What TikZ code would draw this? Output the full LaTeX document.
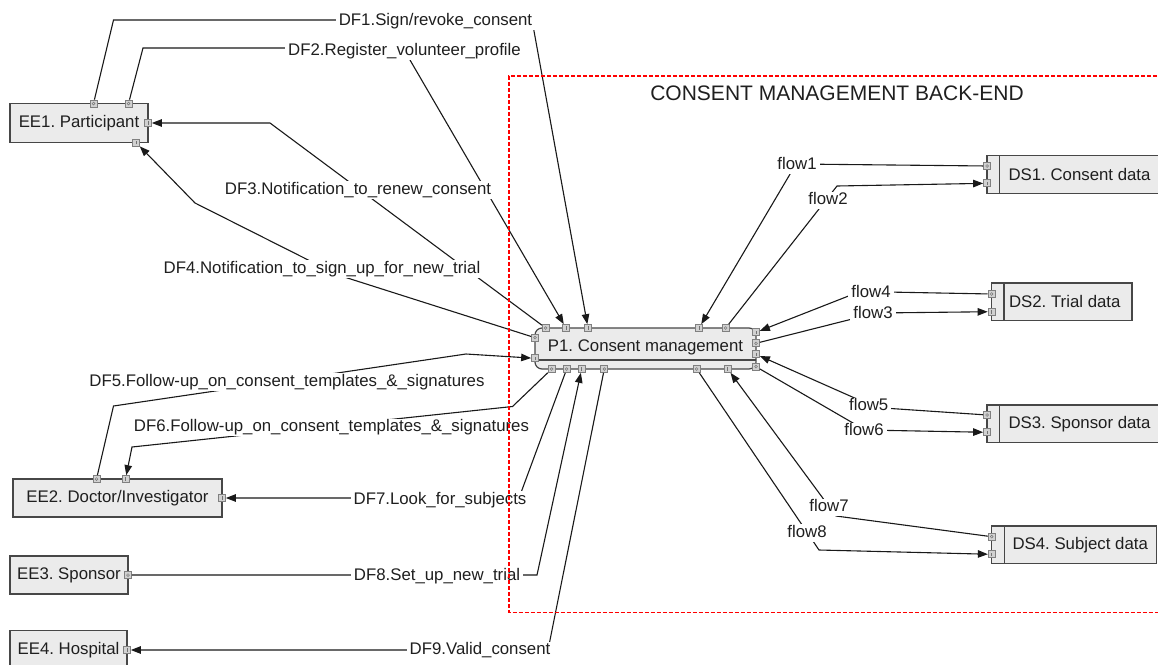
\documentclass[tikz,border=0pt]{standalone}
\usepackage{fontspec}
\setmainfont{Liberation Sans}
\usetikzlibrary{arrows.meta}
\frenchspacing
\begin{document}
\begin{tikzpicture}[x=1pt, y=-1pt,
  every node/.style={font=\fontsize{16.8}{20}\selectfont, text=black!88},
  entity/.style={rectangle, draw=black!72, line width=1.2pt, fill=black!8,
    inner sep=0pt, minimum height=39pt},
  process/.style={entity, rounded corners=7pt, minimum width=221pt, minimum height=41pt,
    path picture={\draw[black!72, line width=1.2pt]
      ([yshift=9pt]path picture bounding box.south west) --
      ([yshift=9pt]path picture bounding box.south east);}},
  store/.style={entity, minimum height=37.5pt,
    path picture={\draw[black!72, line width=1.2pt]
      ([xshift=12.5pt]path picture bounding box.south west) --
      ([xshift=12.5pt]path picture bounding box.north west);}},
  port/.style={rectangle, draw=black!50, fill=black!18, line width=0.7pt,
    minimum size=7pt, inner sep=0pt},
  portout/.style={port, path picture={\draw[black!55, line width=0.5pt]
      (path picture bounding box.center) circle (1.4pt);}},
  portin/.style={port, path picture={\draw[black!55, line width=0.6pt]
      ([yshift=-1.8pt]path picture bounding box.center) --
      ([yshift=1.8pt]path picture bounding box.center);}},
  flow/.style={draw=black!90, line width=1.1pt},
  into/.style={flow, -{Triangle[length=10pt,width=7.5pt]}},
  lbl/.style={fill=white, inner xsep=3pt, inner ysep=1pt, text height=12pt, text depth=3.5pt},
  boundary/.style={draw=red, line width=1.8pt, dash pattern=on 4pt off 2pt},
]
\useasboundingbox (0,0) rectangle (1158,664);

% external entities
\node[entity, minimum width=138pt] (ee1) at (79,123) {EE1. Participant};
\node[entity, minimum width=209pt, minimum height=38pt] (ee2) at (117.5,498) {EE2. Doctor/Investigator};
\node[entity, minimum width=118pt, minimum height=38pt] (ee3) at (69,575) {EE3. Sponsor};
\node[entity, minimum width=117pt] (ee4) at (68.5,650) {EE4. Hospital};

% process
\node[process] (p1) at (645.5,348.5) {\raisebox{5.5pt}{P1. Consent management}};

% data stores
\node[store, minimum width=185pt] (ds1) at (1079.5,174.5) {DS1. Consent data};
\node[store, minimum width=140.5pt] (ds2) at (1061.75,301.75) {\hspace*{6pt}DS2. Trial data};
\node[store, minimum width=185pt] (ds3) at (1079.5,423.7) {DS3. Sponsor data};
\node[store, minimum width=165pt] (ds4) at (1074.2,544.7) {\hspace*{12pt}DS4. Subject data};

% ports of the external entities
\node[portout] (ee1t1) at (93.5,103.5) {};
\node[portout] (ee1t2) at (128.5,103.5) {};
\node[portin]  (ee1r)  at (148,123) {};
\node[portin]  (ee1b)  at (136,142.5) {};
\node[portout] (ee2t1) at (96.5,479) {};
\node[portin]  (ee2t2) at (125.5,479) {};
\node[portin]  (ee2r)  at (222,498) {};
\node[portout] (ee3r)  at (128,575) {};
\node[portin]  (ee4r)  at (127,650) {};

% ports of the process
\node[portout] (p1t1) at (545.7,328) {};
\node[portin]  (p1t2) at (566,328) {};
\node[portin]  (p1t3) at (588,328) {};
\node[portin]  (p1t4) at (699,328) {};
\node[portout] (p1t5) at (725.7,328) {};
\node[portout] (p1l1) at (535,337.7) {};
\node[portin]  (p1l2) at (535,358.3) {};
\node[portin]  (p1r1) at (756,332.3) {};
\node[portout] (p1r2) at (756,343.3) {};
\node[portin]  (p1r3) at (756,354.3) {};
\node[portout] (p1r4) at (756,366.7) {};
\node[portout] (p1b1) at (551.7,369) {};
\node[portout] (p1b2) at (566.7,369) {};
\node[portin]  (p1b3) at (581.7,369) {};
\node[portout] (p1b4) at (604.3,369) {};
\node[portout] (p1b5) at (696.7,369) {};
\node[portin]  (p1b6) at (727.7,369) {};

% ports of the data stores
\node[portout] (ds1o) at (987,166) {};
\node[portin]  (ds1i) at (987,183.3) {};
\node[portout] (ds2o) at (991.5,294) {};
\node[portin]  (ds2i) at (991.5,311.7) {};
\node[portout] (ds3o) at (987,415) {};
\node[portin]  (ds3i) at (987,432.3) {};
\node[portout] (ds4o) at (991.7,536.7) {};
\node[portin]  (ds4i) at (991.7,554.3) {};

% data flows
\draw[into] (ee1t1) -- (113.5,20) -- (532,20) -- (p1t3);
\draw[into] (ee1t2) -- (143,48) -- (403,48) -- (p1t2);
\draw[into] (p1t1) -- (270,123) -- (ee1r);
\draw[into] (p1l1) -- (338,275) -- (195,203) -- (ee1b);
\draw[into] (ee2t1) -- (113.5,406) -- (466,354) -- (p1l2);
\draw[into] (p1b1) -- (512.5,406.5) -- (132,447) -- (ee2t2);
\draw[into] (p1b2) -- (519,498) -- (ee2r);
\draw[into] (ee3r) -- (537,575) -- (p1b3);
\draw[into] (p1b4) -- (548,650) -- (ee4r);

\draw[into] (ds1o) -- (796,164) -- (p1t4);
\draw[into] (p1t5) -- (837,186) -- (ds1i);
\draw[into] (ds2o) -- (860,291.5) -- (p1r1);
\draw[into] (p1r2) -- (876,313) -- (ds2i);
\draw[into] (ds3o) -- (876,407.5) -- (p1r3);
\draw[into] (p1r4) -- (865,430) -- (ds3i);
\draw[into] (ds4o) -- (836,516) -- (p1b6);
\draw[into] (p1b5) -- (819,550) -- (ds4i);

% flow labels
\node[lbl] (df1) at (435.5,21.5) {DF1.Sign/revoke\_consent};
\node[lbl] (df2) at (404.5,51) {DF2.Register\_volunteer\_profile};
\node[lbl] (df3) at (358,190) {DF3.Notification\_to\_renew\_consent};
\node[lbl] (df4) at (322,269) {DF4.Notification\_to\_sign\_up\_for\_new\_trial};
\node[lbl] (df5) at (287,382) {DF5.Follow-up\_on\_consent\_templates\_\&\_signatures};
\node[lbl] (df6) at (331.5,427.5) {DF6.Follow-up\_on\_consent\_templates\_\&\_signatures};
\node[lbl] (df7) at (440,500) {DF7.Look\_for\_subjects};
\node[lbl] (df8) at (437,576.5) {DF8.Set\_up\_new\_trial};
\node[lbl] (df9) at (480,650.5) {DF9.Valid\_consent};

\node[lbl] (fl1) at (797,165) {flow1};
\node[lbl] (fl2) at (828,200.5) {flow2};
\node[lbl] (fl4) at (871,293) {flow4};
\node[lbl] (fl3) at (873,314.5) {flow3};
\node[lbl] (fl5) at (868.7,406.5) {flow5};
\node[lbl] (fl6) at (864,431.5) {flow6};
\node[lbl] (fl7) at (829,507.5) {flow7};
\node[lbl] (fl8) at (807,533) {flow8};

% trust boundary
\draw[boundary] (1175,76) -- (509,76) -- (509,612.5) -- (1175,612.5);
\node[font=\fontsize{21}{24}\selectfont] (title) at (837,93) {CONSENT MANAGEMENT BACK-END};
\end{tikzpicture}
\end{document}
